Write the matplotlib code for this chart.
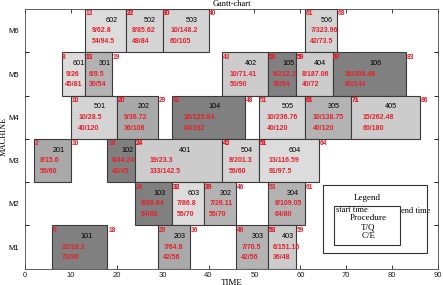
import matplotlib
matplotlib.use("Agg")
import matplotlib.pyplot as plt
from matplotlib.patches import Rectangle

# operations: machine row, start, end, procedure, T/Q, C/E
machines = [6, 6, 6, 6,
            5, 5, 5, 5, 5, 5,
            4, 4, 4, 4, 4, 4,
            3, 3, 3, 3, 3,
            2, 2, 2, 2,
            1, 1, 1, 1]
starts = [13, 22, 30, 61,
          8, 13, 43, 53, 59, 67,
          10, 20, 32, 51, 61, 71,
          2, 18, 24, 43, 51,
          24, 32, 39, 53,
          6, 29, 46, 53]
ends = [22, 30, 40, 68,
        13, 19, 53, 59, 67, 83,
        20, 29, 48, 61, 71, 86,
        10, 24, 43, 51, 64,
        32, 39, 46, 61,
        18, 36, 53, 59]
procs = ['602', '502', '503', '506',
         '601', '301', '402', '105', '404', '106',
         '501', '202', '104', '505', '305', '405',
         '201', '102', '401', '504', '604',
         '103', '603', '302', '304',
         '101', '203', '303', '403']
tq = ['9/62.8', '8/85.62', '10/148.2', '7/323.96',
      '9/26', '6/9.5', '10/71.41', '6/212.2', '8/187.06', '16/306.48',
      '10/28.5', '9/36.72', '16/125.84', '10/236.76', '10/138.75', '15/262.48',
      '8/15.6', '6/44.24', '19/23.3', '8/201.3', '13/116.59',
      '8/89.64', '7/86.8', '7/26.11', '8/109.05',
      '12/19.2', '7/64.8', '7/70.5', '6/151.16']
ce = ['54/94.5', '48/84', '60/105', '42/73.5',
      '45/81', '30/54', '50/90', '30/54', '40/72', '80/144',
      '40/120', '36/108', '64/192', '40/120', '40/120', '60/180',
      '56/60', '42/45', '133/142.5', '56/60', '91/97.5',
      '64/80', '56/70', '56/70', '64/80',
      '72/96', '42/56', '42/56', '36/48']
machine_labels = ['M1', 'M2', 'M3', 'M4', 'M5', 'M6']

# grey shade per job (first digit of procedure)
job_colors = {'1': '#808080', '2': '#a9a9a9', '3': '#b3b3b3',
              '4': '#cccccc', '5': '#d4d4d4', '6': '#dcdcdc'}

serif = 'Liberation Serif'
sans = 'Liberation Sans'

fig = plt.figure(figsize=(4.43, 2.85), dpi=100)
ax = fig.add_axes([0.056, 0.057, 0.933, 0.911])

for m, s, e, p, a, b in zip(machines, starts, ends, procs, tq, ce):
    w = e - s
    ax.barh(m, w, left=s, height=1, color=job_colors[p[0]],
            edgecolor='#3a3a3a', linewidth=0.8, zorder=2)
    ax.text(s + 0.15, m + 0.47, str(s), color='#e8202a', fontsize=4.8,
            fontweight='bold', family=sans, ha='left', va='top', zorder=3)
    ax.text(e + 0.15, m + 0.47, str(e), color='#e8202a', fontsize=4.8,
            fontweight='bold', family=sans, ha='left', va='top', zorder=3)
    ax.text(s + w / 2, m + 0.24, p, color='black', fontsize=5.2,
            family=sans, ha='left', va='center', zorder=3)
    ax.text(s + w / 6, m, a, color='#e8202a', fontsize=5,
            fontweight='bold', family=sans, ha='left', va='center', zorder=3)
    ax.text(s + w / 6, m - 0.25, b, color='#e8202a', fontsize=5,
            fontweight='bold', family=sans, ha='left', va='center', zorder=3)

# legend boxes
ax.add_patch(Rectangle((65, 0.86), 22.6, 1.57, fill=False,
                       edgecolor='#333333', linewidth=0.8, zorder=4))
ax.add_patch(Rectangle((67.4, 1.05), 14.3, 0.89, fill=False,
                       edgecolor='#333333', linewidth=0.8, zorder=4))
ax.text(74.5, 2.13, 'Legend', family=serif, fontsize=6.5, ha='center', va='center')
ax.text(67.7, 1.85, 'start time', family=serif, fontsize=6, ha='left', va='center')
ax.text(81.9, 1.83, 'end time', family=serif, fontsize=6, ha='left', va='center')
ax.text(74.8, 1.67, 'Procedure', family=serif, fontsize=6.5, ha='center', va='center')
ax.text(74.8, 1.46, 'T/Q', family=serif, fontsize=6.5, ha='center', va='center')
ax.text(74.8, 1.25, 'C/E', family=serif, fontsize=6.5, ha='center', va='center')

ax.set_xlim(0, 90)
ax.set_ylim(0.5, 6.5)
ax.set_xticks(range(0, 91, 10))
ax.set_yticks(range(1, 7))
ax.set_yticklabels(machine_labels)
ax.set_yticks([1.5, 2.5, 3.5, 4.5, 5.5], minor=True)
ax.tick_params(axis='x', direction='in', length=3, width=0.6, top=True,
               labelsize=5.5, pad=2, colors='#222222')
ax.tick_params(axis='y', which='major', length=0, labelsize=5.5, pad=4)
ax.tick_params(axis='y', which='minor', direction='in', length=3, width=0.6,
               right=True, left=True)
for lab in ax.get_xticklabels() + ax.get_yticklabels():
    lab.set_family(sans)
for sp in ax.spines.values():
    sp.set_linewidth(0.6)
    sp.set_color('#444444')

ax.set_xlabel('TIME', family=serif, fontsize=6.5, labelpad=0)
fig.text(0.009, 0.52, 'MACHINE', family=serif, fontsize=6, rotation=90,
         ha='center', va='center')
fig.text(0.524, 0.999, 'Gantt-chart', family=serif, fontsize=6,
         ha='center', va='top')

fig.savefig('out.png', dpi=100)
